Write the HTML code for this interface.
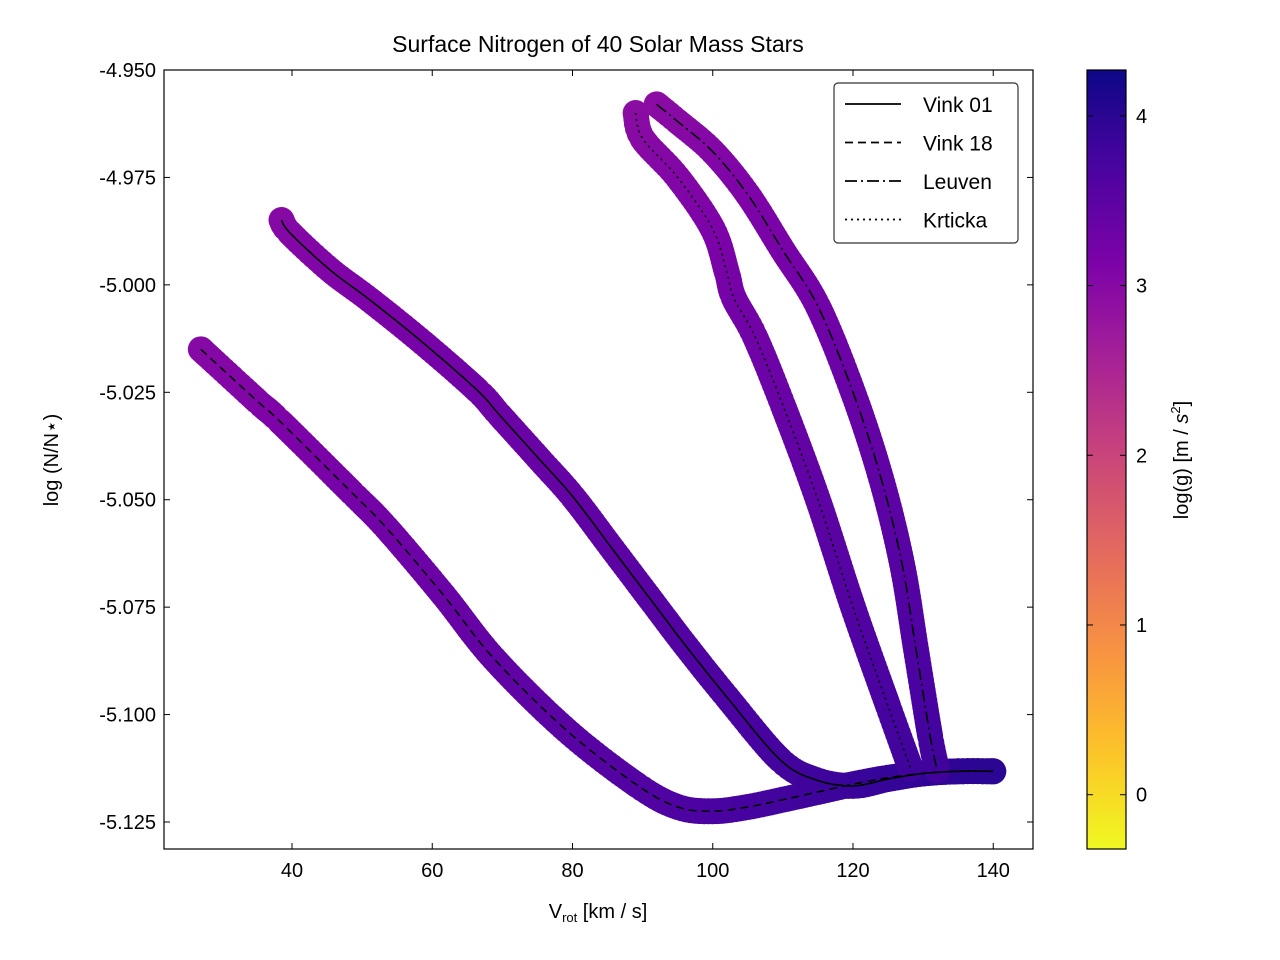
<!DOCTYPE html>
<html><head><meta charset="utf-8"><style>
body{margin:0;background:#fff}
svg{display:block;font-family:"Liberation Sans",sans-serif}
</style></head><body>
<svg id="chart" width="1280" height="960"></svg>
<script>
const vink01V=[38.5,39.7,45.4,51.1,58.7,66.4,69.6,75.4,80.1,85.8,91.5,96.3,102.0,109.6,114.7,120,125,130,135,140];
const vink01N=[-4.9849,-4.9879,-4.9965,-5.0035,-5.0135,-5.0245,-5.0303,-5.0408,-5.0494,-5.0617,-5.0740,-5.0843,-5.0959,-5.1105,-5.1152,-5.1166,-5.115,-5.1137,-5.1132,-5.1132];
const vink18V=[27,35,38.3,48.5,53.5,61.6,68.8,79.1,89.2,95,100,105,110,115,120,125,130,135,140];
const vink18N=[-5.015,-5.027,-5.0318,-5.0483,-5.0566,-5.0722,-5.0870,-5.1036,-5.1164,-5.1215,-5.1225,-5.1215,-5.1198,-5.1180,-5.1162,-5.1147,-5.1137,-5.1132,-5.1132];
const leuvenV=[92,95,100,105,110,115,120,124,127,129,131,132];
const leuvenN=[-4.958,-4.962,-4.969,-4.979,-4.992,-5.005,-5.025,-5.045,-5.065,-5.085,-5.105,-5.113];
const krtickaV=[89,90,95,100,102,103,106,110,115,120,125,128.2];
const krtickaN=[-4.960,-4.966,-4.975,-4.987,-4.997,-5.003,-5.012,-5.028,-5.050,-5.075,-5.098,-5.1125];
const loggStart=[3.0,3.0,2.95,2.95];
const loggEnd=[4.0,4.0,3.8,3.8];
const xTicks=[40,60,80,100,120,140];
const yTicks=[-4.950,-4.975,-5.000,-5.025,-5.050,-5.075,-5.100,-5.125];
const cTicks=[0,1,2,3,4];
const seriesNames=["Vink 01","Vink 18","Leuven","Krticka"];

const L=164,R=1033,T=70,B=849;
const X=v=>292+(v-40)*7.0125;
const Y=v=>70+(-4.95-v)/0.025*107.43;
const CB0=-0.32,CB1=4.27;
const CY=v=>849-(v-CB0)/(CB1-CB0)*779;
const plasma=[[13,8,135],[75,3,161],[125,3,168],[168,34,150],[203,70,121],[229,107,93],[248,148,65],[253,195,40],[240,249,33]];
function cmap(g){let t=(CB1-g)/(CB1-CB0);t=Math.max(0,Math.min(1,t));
 const p=t*(plasma.length-1),i=Math.min(Math.floor(p),plasma.length-2),f=p-i;
 const c=plasma[i].map((a,k)=>Math.round(a+(plasma[i+1][k]-a)*f));return `rgb(${c})`;}
const svg=document.getElementById('chart');const NS="http://www.w3.org/2000/svg";
function el(tag,attrs,parent){const e=document.createElementNS(NS,tag);for(const k in attrs)e.setAttribute(k,attrs[k]);(parent||svg).appendChild(e);return e;}
function txt(s,attrs,parent){const e=el('text',attrs,parent);e.textContent=s;return e;}
function smooth(pts){const out=[];for(let i=0;i<pts.length-1;i++){
 const p0=pts[Math.max(0,i-1)],p1=pts[i],p2=pts[i+1],p3=pts[Math.min(pts.length-1,i+2)];
 const n=Math.max(2,Math.ceil(Math.hypot(p2[0]-p1[0],p2[1]-p1[1])/5));
 for(let k=0;k<n;k++){const t=k/n,t2=t*t,t3=t2*t;
  out.push([0,1].map(d=>0.5*(2*p1[d]+(-p0[d]+p2[d])*t+(2*p0[d]-5*p1[d]+4*p2[d]-p3[d])*t2+(-p0[d]+3*p1[d]-3*p2[d]+p3[d])*t3)));}}
 out.push(pts[pts.length-1]);return out;}

const data=[[vink01V,vink01N],[vink18V,vink18N],[leuvenV,leuvenN],[krtickaV,krtickaN]];
const dashes=["none","8,5","12,4,2,4","2,4"];
const sm=data.map(([vs,ns])=>smooth(vs.map((v,i)=>[X(v),Y(ns[i])])));
sm.forEach((pts,si)=>{
 const g=el('g',{});
 
 
 pts.forEach((p,i)=>{const lg=loggStart[si]+(loggEnd[si]-loggStart[si])*i/(pts.length-1);
  el('circle',{cx:p[0],cy:p[1],r:13,fill:cmap(lg)},g);});
});
sm.forEach((pts,si)=>{
 const p=el('polyline',{points:pts.map(q=>q[0]+','+q[1]).join(' '),fill:'none',stroke:'#000','stroke-width':1.6,'stroke-dasharray':dashes[si]});
 
 
});
const frame=el('rect',{x:L,y:T,width:R-L,height:B-T,fill:'none',stroke:'#000','stroke-width':1.2});

xTicks.forEach(v=>{el('line',{x1:X(v),x2:X(v),y1:B,y2:B-6,stroke:'#000'});el('line',{x1:X(v),x2:X(v),y1:T,y2:T+6,stroke:'#000'});
 const t=txt(v,{x:X(v),y:B+28,'text-anchor':'middle','font-size':20});});
yTicks.forEach(v=>{el('line',{x1:L,x2:L+6,y1:Y(v),y2:Y(v),stroke:'#000'});el('line',{x1:R,x2:R-6,y1:Y(v),y2:Y(v),stroke:'#000'});
 const t=txt(v.toFixed(3),{x:L-8,y:Y(v)+7,'text-anchor':'end','font-size':20});});
const title=txt('Surface Nitrogen of 40 Solar Mass Stars',{x:598,y:52,'text-anchor':'middle','font-size':23});

const xl=el('text',{x:598,y:918,'text-anchor':'middle','font-size':20});xl.innerHTML='V<tspan font-size="13" dy="4">rot</tspan><tspan dy="-4"> [km / s]</tspan>';

const yl=txt('log (N/N⋆)',{x:58,y:460,'text-anchor':'middle','font-size':20,transform:'rotate(-90 58 460)'});

const lg=el('g',{});
el('rect',{x:834,y:83,width:184,height:160,rx:4,fill:'#fff',stroke:'#333','stroke-width':1.2},lg);
seriesNames.forEach((n,i)=>{const y=104+i*38.5;
 el('line',{x1:845,x2:901,y1:y,y2:y,stroke:'#000','stroke-width':1.8,'stroke-dasharray':dashes[i]},lg);
 const t=txt(n,{x:923,y:y+8,'font-size':21},lg);});
const defs=el('defs',{});const gr=el('linearGradient',{id:'cb',x1:0,y1:1,x2:0,y2:0},defs);
for(let k=0;k<=20;k++){const g=CB0+(CB1-CB0)*k/20;el('stop',{offset:k/20,'stop-color':cmap(g)},gr);}
const cb=el('rect',{x:1087,y:T,width:39,height:B-T,fill:'url(#cb)',stroke:'#000','stroke-width':1.2});

cTicks.forEach(v=>{el('line',{x1:1126,x2:1120,y1:CY(v),y2:CY(v),stroke:'#000'});el('line',{x1:1087,x2:1093,y1:CY(v),y2:CY(v),stroke:'#000'});
 const t=txt(v,{x:1136,y:CY(v)+7,'font-size':20});});
const cl=el('text',{x:1188,y:460,'text-anchor':'middle','font-size':20,transform:'rotate(-90 1188 460)'});
cl.innerHTML='log(g) [m / <tspan font-style="italic">s</tspan><tspan font-size="13" dy="-8">2</tspan><tspan dy="8">]</tspan>';

</script>
</body></html>
